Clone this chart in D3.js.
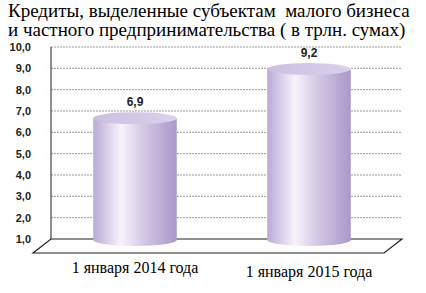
<!DOCTYPE html>
<html>
<head>
<meta charset="utf-8">
<script src="https://cdn.jsdelivr.net/npm/d3@7"></script>
<style>
  body { margin: 0; background: #fff; }
</style>
</head>
<body>
<div id="chart"></div>
<script>
var titleLines = ["Кредиты, выделенные субъектам  малого бизнеса",
                  "и частного предпринимательства ( в трлн. сумах)"];
var categories = ["1 января 2014 года", "1 января 2015 года"];
var values = [6.9, 9.2];
var labels = ["6,9", "9,2"];
var ticks = [1, 2, 3, 4, 5, 6, 7, 8, 9, 10];

var width = 426, height = 293;
var depthX = 18, depthY = 14;   // floor depth offset
var serif = "'Liberation Serif', 'Times New Roman', serif";
var sans = "'Liberation Sans', Arial, sans-serif";

var svg = d3.select("#chart").append("svg")
    .attr("width", width)
    .attr("height", height);

var defs = svg.append("defs");
var body = defs.append("linearGradient").attr("id", "cyl");
body.append("stop").attr("offset", "0%").attr("stop-color", "#b9aad6");
body.append("stop").attr("offset", "33%").attr("stop-color", "#f7f3fb");
body.append("stop").attr("offset", "60%").attr("stop-color", "#d3c8e5");
body.append("stop").attr("offset", "100%").attr("stop-color", "#a998c9");
var topG = defs.append("linearGradient").attr("id", "cyltop");
topG.append("stop").attr("offset", "0%").attr("stop-color", "#cbbfe1");
topG.append("stop").attr("offset", "100%").attr("stop-color", "#dad1ea");

var y = d3.scaleLinear().domain([1, 10]).range([239, 47]);
var x = d3.scaleBand().domain(categories).range([48, 396])
    .paddingInner(0.52).paddingOuter(0.26);

var wallLeft = 51, wallRight = 402;

// gridlines
svg.append("g").selectAll("line")
  .data(ticks.filter(function(d) { return d > 1; }))
  .join("line")
    .attr("x1", wallLeft).attr("x2", wallRight)
    .attr("y1", function(d) { return y(d); })
    .attr("y2", function(d) { return y(d); })
    .attr("stroke", "#9a9a9a")
    .attr("stroke-width", 1)
    .attr("stroke-dasharray", "2,1");

// back wall axis line
svg.append("line")
    .attr("x1", wallLeft).attr("x2", wallLeft)
    .attr("y1", y(10)).attr("y2", y(1))
    .attr("stroke", "#444").attr("stroke-width", 1.2);

// floor
var fb = y(1);
svg.append("path")
    .attr("d", "M" + wallLeft + "," + fb + "L" + wallRight + "," + fb +
               "L" + (wallRight - depthX) + "," + (fb + depthY) +
               "L" + (wallLeft - depthX) + "," + (fb + depthY) + "Z")
    .attr("fill", "#fff")
    .attr("stroke", "#222").attr("stroke-width", 1.2);

// tick labels
svg.append("g").selectAll("text")
  .data(ticks)
  .join("text")
    .attr("x", 31)
    .attr("y", function(d) { return y(d); })
    .attr("dy", "0.35em")
    .attr("text-anchor", "end")
    .attr("font-family", sans)
    .attr("font-size", 11)
    .attr("font-weight", "bold")
    .attr("fill", "#222")
    .text(function(d) { return d3.format(".1f")(d).replace(".", ","); });

// cylinders
var ry = 6, off = 5;
var bars = svg.append("g").selectAll("g")
  .data(values)
  .join("g");

bars.append("path")
    .attr("d", function(d, i) {
      var x0 = x(categories[i]), w = x.bandwidth(), rx = w / 2;
      var yt = y(d) + off, yb = y(1) + 1;
      return "M" + x0 + "," + yt + "L" + x0 + "," + yb +
             "A" + rx + "," + ry + " 0 0 0 " + (x0 + w) + "," + yb +
             "L" + (x0 + w) + "," + yt + "Z";
    })
    .attr("fill", "url(#cyl)");

bars.append("ellipse")
    .attr("cx", function(d, i) { return x(categories[i]) + x.bandwidth() / 2; })
    .attr("cy", function(d) { return y(d) + off; })
    .attr("rx", x.bandwidth() / 2)
    .attr("ry", ry)
    .attr("fill", "url(#cyltop)");

// value labels
bars.append("text")
    .attr("x", function(d, i) { return x(categories[i]) + x.bandwidth() / 2; })
    .attr("y", function(d) { return y(d) - 7; })
    .attr("text-anchor", "middle")
    .attr("font-family", sans)
    .attr("font-size", 12)
    .attr("font-weight", "bold")
    .attr("fill", "#222")
    .text(function(d, i) { return labels[i]; });

// category labels
svg.append("g").selectAll("text")
  .data(categories)
  .join("text")
    .attr("x", function(d) { return x(d) + x.bandwidth() / 2; })
    .attr("y", function(d, i) { return i === 0 ? 273 : 277; })
    .attr("text-anchor", "middle")
    .attr("font-family", serif)
    .attr("font-size", 16)
    .attr("fill", "#000")
    .text(function(d) { return d; });

// title
svg.append("g").selectAll("text")
  .data(titleLines)
  .join("text")
    .attr("x", 8)
    .attr("y", function(d, i) { return 17 + i * 19; })
    .attr("font-family", serif)
    .attr("font-size", 19)
    .attr("fill", "#000")
    .attr("xml:space", "preserve")
    .text(function(d) { return d; });
</script>
</body>
</html>
